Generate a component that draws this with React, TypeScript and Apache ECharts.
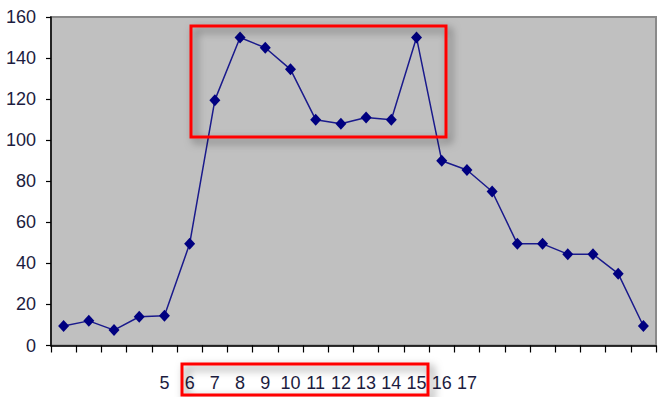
import React, { useEffect, useRef } from "react";
import * as echarts from "echarts";

const categories: string[] = [
  "1", "2", "3", "4", "5", "6", "7", "8", "9", "10", "11", "12",
  "13", "14", "15", "16", "17", "18", "19", "20", "21", "22", "23", "24",
];
const shownLabels: string[] = ["5", "6", "7", "8", "9", "10", "11", "12", "13", "14", "15", "16", "17"];
const values: number[] = [
  9.5, 12, 7.5, 14, 14.5, 49.5, 119.5, 150, 145, 134.5, 110, 108,
  111, 110, 150, 90, 85.5, 75, 49.5, 49.5, 44.5, 44.5, 35, 9.5,
];
const yTicks: number[] = [0, 20, 40, 60, 80, 100, 120, 140, 160];

const FONT = "'Liberation Sans Narrow', 'Arial Narrow', 'Liberation Sans', Arial, sans-serif";
const TEXT_COLOR = "#1c1c40";

export default function App() {
  const ref = useRef<HTMLDivElement>(null);
  useEffect(() => {
    if (!ref.current) return;
    const chart = echarts.init(ref.current, null, { renderer: "svg" });
    const shadow = {
      shadowBlur: 8,
      shadowOffsetX: 4,
      shadowOffsetY: 4,
      shadowColor: "rgba(0,0,0,0.5)",
    };
    chart.setOption({
      animation: false,
      backgroundColor: "#ffffff",
      grid: {
        left: 51,
        top: 17,
        right: 7,
        bottom: 51.5,
        show: true,
        backgroundColor: "#c0c0c0",
        borderColor: "#8a8a8a",
        borderWidth: 2,
      },
      xAxis: {
        type: "category",
        data: categories,
        boundaryGap: true,
        axisLine: { lineStyle: { color: "#000", width: 1.5 } },
        axisTick: { show: true, interval: 0, length: 7, lineStyle: { color: "#000", width: 1.2 } },
        axisLabel: {
          interval: 0,
          margin: 28,
          fontFamily: FONT,
          fontSize: 18,
          color: TEXT_COLOR,
          formatter: (v: string) => (shownLabels.indexOf(v) >= 0 ? v : ""),
        },
        splitLine: { show: false },
      },
      yAxis: {
        type: "value",
        min: yTicks[0],
        max: yTicks[yTicks.length - 1],
        interval: 20,
        axisLine: { show: true, lineStyle: { color: "#000", width: 1.5 } },
        axisTick: { show: true, length: 5, lineStyle: { color: "#000", width: 1.2 } },
        axisLabel: {
          margin: 15,
          fontFamily: FONT,
          fontSize: 18,
          color: TEXT_COLOR,
        },
        splitLine: { show: false },
      },
      series: [
        {
          type: "line",
          data: values,
          symbol: "diamond",
          symbolSize: [11, 12],
          showAllSymbol: true,
          lineStyle: { color: "#1a1a8c", width: 1.5 },
          itemStyle: { color: "#000080" },
        },
      ],
      graphic: [
        {
          type: "rect",
          shape: { x: 191, y: 26, width: 255, height: 111 },
          style: { fill: "none", stroke: "#ff0000", lineWidth: 3, ...shadow },
          z: 100,
        },
        {
          type: "rect",
          shape: { x: 182, y: 364, width: 246, height: 31 },
          style: { fill: "none", stroke: "#ff0000", lineWidth: 3, ...shadow },
          z: 100,
        },
      ],
    });
    return () => chart.dispose();
  }, []);
  return <div ref={ref} style={{ width: 663, height: 397, position: "absolute", left: 0, top: 0 }} />;
}
